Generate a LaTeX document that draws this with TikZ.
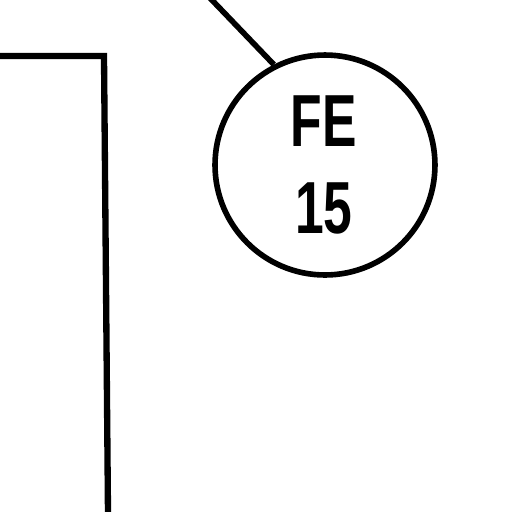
\documentclass[tikz,border=0pt]{standalone}
\usepackage{fontspec}
\setmainfont{Liberation Sans}
\begin{document}
\begin{tikzpicture}[x=0.02cm,y=-0.02cm,line cap=butt,line join=miter,
                    pipe/.style={line width=3.6pt},
                    tag node/.style={circle,draw=black,line width=3.2pt,inner sep=0pt,minimum size=4.4cm},
                    tag text/.style={font=\bfseries\fontsize{42}{42}\selectfont,xscale=0.7}]
                    \useasboundingbox (0,0) rectangle (512,512);
                    \node[tag node] (fe) at (325,165) {};
                    \node[tag text] (fetop) at (324,121) {FE};
                    \node[tag text] (fenum) at (324,208) {15};
                    \coordinate (lead) at (210,-2);
                    \coordinate (pipein) at (-2,56);
                    \coordinate (pipebend) at (104,56);
                    \coordinate (pipeout) at (108,514);

                    \draw[line width=3.2pt] (lead) -- (fe.117);
                    \draw[pipe] (pipein) -- (pipebend) -- (pipeout);
                \end{tikzpicture}
\end{document}
